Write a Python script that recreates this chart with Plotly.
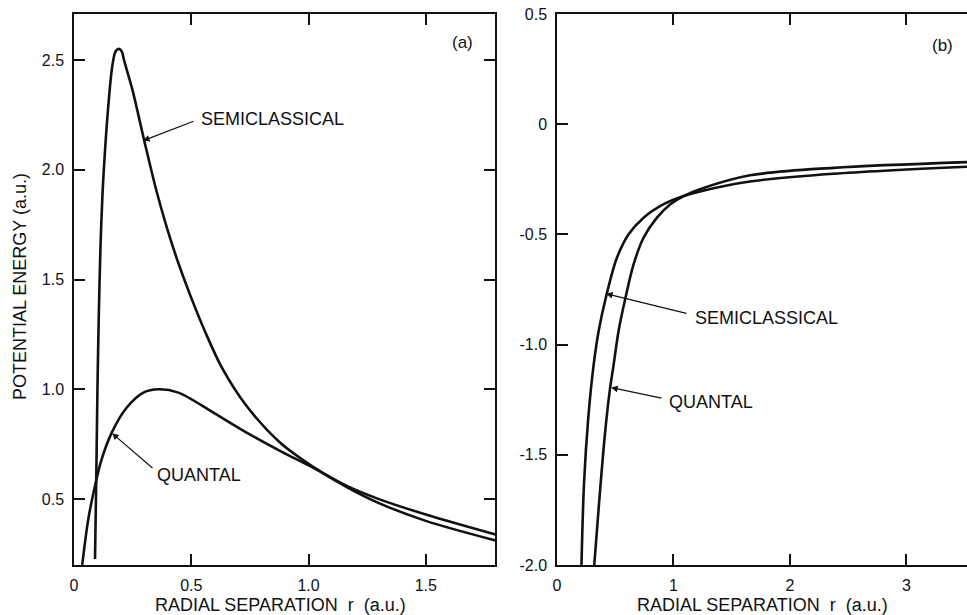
import plotly.graph_objects as go

# ---------------- data ----------------
# Panel (a)
a_semi_r = [0.0896, 0.095, 0.100, 0.106, 0.113, 0.122, 0.133, 0.147, 0.163, 0.178, 0.192, 0.204,
            0.213, 0.25, 0.30, 0.35, 0.395, 0.44, 0.495, 0.56, 0.63, 0.736, 0.878, 1.021,
            1.163, 1.30, 1.5, 1.8]
a_semi_v = [0.227, 0.6, 1.0, 1.35, 1.65, 1.9, 2.1, 2.3, 2.47, 2.54, 2.55, 2.538,
            2.5, 2.36, 2.13, 1.91, 1.74, 1.59, 1.43, 1.26, 1.10, 0.924, 0.758, 0.646,
            0.555, 0.482, 0.401, 0.311]
a_quant_r = [0.035, 0.061, 0.0896, 0.118, 0.161, 0.225, 0.296, 0.36, 0.445, 0.594, 0.736, 0.878,
             1.021, 1.163, 1.30, 1.5, 1.8]
a_quant_v = [0.2, 0.409, 0.561, 0.682, 0.803, 0.917, 0.985, 1.0, 0.985, 0.894, 0.803, 0.72,
             0.642, 0.560, 0.500, 0.430, 0.338]

# Panel (b)
b_semi_r = [0.21, 0.232, 0.269, 0.312, 0.358, 0.42, 0.515, 0.615, 0.744, 0.916, 1.087, 1.227,
            1.657, 2.372, 3.52]
b_semi_v = [-2.0, -1.63, -1.329, -1.103, -0.937, -0.785, -0.605, -0.499, -0.424, -0.363, -0.326,
            -0.305, -0.260, -0.225, -0.193]
b_quant_r = [0.32, 0.363, 0.412, 0.455, 0.483, 0.529, 0.587, 0.658, 0.744, 0.858, 0.973, 1.087,
             1.227, 1.657, 2.372, 3.52]
b_quant_v = [-2.0, -1.706, -1.404, -1.2, -1.103, -0.937, -0.79, -0.635, -0.514, -0.424, -0.363,
             -0.326, -0.295, -0.232, -0.198, -0.172]

# tick values / labels
a_xticks = [0, 0.5, 1.0, 1.5]
a_xlabels = ["0", "0.5", "1.0", "1.5"]
a_yticks = [0.5, 1.0, 1.5, 2.0, 2.5]
a_ylabels = ["0.5", "1.0", "1.5", "2.0", "2.5"]
b_xticks = [0, 1, 2, 3]
b_xlabels = ["0", "1", "2", "3"]
b_yticks = [0.5, 0, -0.5, -1.0, -1.5, -2.0]
b_ylabels = ["0.5", "0", "-0.5", "-1.0", "-1.5", "-2.0"]

# text labels: (text, x, y) and arrows: (head_x, head_y, tail_x, tail_y)
a_labels = [("SEMICLASSICAL", 0.533, 2.232), ("QUANTAL", 0.345, 0.609)]
a_arrows = [(0.294, 2.132, 0.516, 2.223), (0.162, 0.80, 0.341, 0.636)]
b_labels = [("SEMICLASSICAL", 1.167, -0.878), ("QUANTAL", 0.944, -1.262)]
b_arrows = [(0.421, -0.769, 1.124, -0.86), (0.464, -1.195, 0.91, -1.244)]

FONT = "Liberation Sans, Arial, sans-serif"
INK = "#111111"

fig = go.Figure()
line = dict(color=INK, width=2.6, shape="spline", smoothing=0.9)
fig.add_trace(go.Scatter(x=a_semi_r, y=a_semi_v, mode="lines", line=line, xaxis="x", yaxis="y",
                         name="SEMICLASSICAL"))
fig.add_trace(go.Scatter(x=a_quant_r, y=a_quant_v, mode="lines", line=line, xaxis="x", yaxis="y",
                         name="QUANTAL"))
fig.add_trace(go.Scatter(x=b_semi_r, y=b_semi_v, mode="lines", line=line, xaxis="x2", yaxis="y2",
                         name="SEMICLASSICAL"))
fig.add_trace(go.Scatter(x=b_quant_r, y=b_quant_v, mode="lines", line=line, xaxis="x2", yaxis="y2",
                         name="QUANTAL"))

L, R, T, B = 74, 0, 14, 50
W, H = 967, 615
pw = W - L - R
ph = H - T - B

def px_to_paper_x(px):
    return (px - L) / pw

def px_to_paper_y(py):
    return (H - B - py) / ph

axis_common = dict(showline=True, linecolor=INK, linewidth=1.5, ticks="inside", ticklen=11,
                   tickwidth=1.5, tickcolor=INK, showgrid=False, zeroline=False,
                   tickfont=dict(family=FONT, size=16, color=INK), ticklabelstandoff=5)

fig.update_layout(
    width=W, height=H,
    margin=dict(l=L, r=R, t=T, b=B),
    paper_bgcolor="white", plot_bgcolor="white",
    showlegend=False,
    xaxis=dict(domain=[0, px_to_paper_x(495)], range=[0, 1.795], tickvals=a_xticks,
               ticktext=a_xlabels, mirror="ticks", anchor="y", **axis_common),
    yaxis=dict(domain=[0, 1], range=[0.2, 2.709], tickvals=a_yticks, ticktext=a_ylabels,
               mirror="ticks", anchor="x", **axis_common),
    xaxis2=dict(domain=[px_to_paper_x(557), 1], range=[0, 3.52], tickvals=b_xticks,
                ticktext=b_xlabels, mirror="ticks", anchor="y2", **axis_common),
    yaxis2=dict(domain=[0, 1], range=[-2.0, 0.5], tickvals=b_yticks, ticktext=b_ylabels,
                mirror=False, anchor="x2", **axis_common),
)

ann = []
for (txt, x, y) in a_labels:
    ann.append(dict(text=txt, x=x, y=y, xref="x", yref="y", showarrow=False, xanchor="left",
                    yanchor="middle", font=dict(family=FONT, size=18, color=INK)))
for (txt, x, y) in b_labels:
    ann.append(dict(text=txt, x=x, y=y, xref="x2", yref="y2", showarrow=False, xanchor="left",
                    yanchor="middle", font=dict(family=FONT, size=18, color=INK)))
for (hx, hy, tx, ty) in a_arrows:
    ann.append(dict(text="", x=hx, y=hy, xref="x", yref="y", ax=tx, ay=ty, axref="x", ayref="y",
                    showarrow=True, arrowhead=2, arrowsize=1.1, arrowwidth=1.2, arrowcolor=INK,
                    standoff=0))
for (hx, hy, tx, ty) in b_arrows:
    ann.append(dict(text="", x=hx, y=hy, xref="x2", yref="y2", ax=tx, ay=ty, axref="x2", ayref="y2",
                    showarrow=True, arrowhead=2, arrowsize=1.1, arrowwidth=1.2, arrowcolor=INK,
                    standoff=0))

ann.append(dict(text="(a)", x=1.655, y=2.577, xref="x", yref="y", showarrow=False,
                font=dict(family=FONT, size=17, color=INK)))
ann.append(dict(text="(b)", x=3.313, y=0.357, xref="x2", yref="y2", showarrow=False,
                font=dict(family=FONT, size=17, color=INK)))

ann.append(dict(text="POTENTIAL ENERGY (a.u.)", x=px_to_paper_x(20), y=px_to_paper_y(287),
                xref="paper", yref="paper", showarrow=False, textangle=-90,
                xanchor="center", yanchor="middle", font=dict(family=FONT, size=18, color=INK)))
ann.append(dict(text="RADIAL SEPARATION  r  (a.u.)", x=px_to_paper_x(280), y=px_to_paper_y(605),
                xref="paper", yref="paper", showarrow=False, xanchor="center", yanchor="middle",
                font=dict(family=FONT, size=18, color=INK)))
ann.append(dict(text="RADIAL SEPARATION  r  (a.u.)", x=px_to_paper_x(762), y=px_to_paper_y(605),
                xref="paper", yref="paper", showarrow=False, xanchor="center", yanchor="middle",
                font=dict(family=FONT, size=18, color=INK)))

fig.update_layout(annotations=ann)

fig.write_html("out.html", config={"displayModeBar": False},
               post_script="document.body.style.margin='0px';document.body.style.padding='0px';"
                           "document.body.style.overflow='hidden';")
